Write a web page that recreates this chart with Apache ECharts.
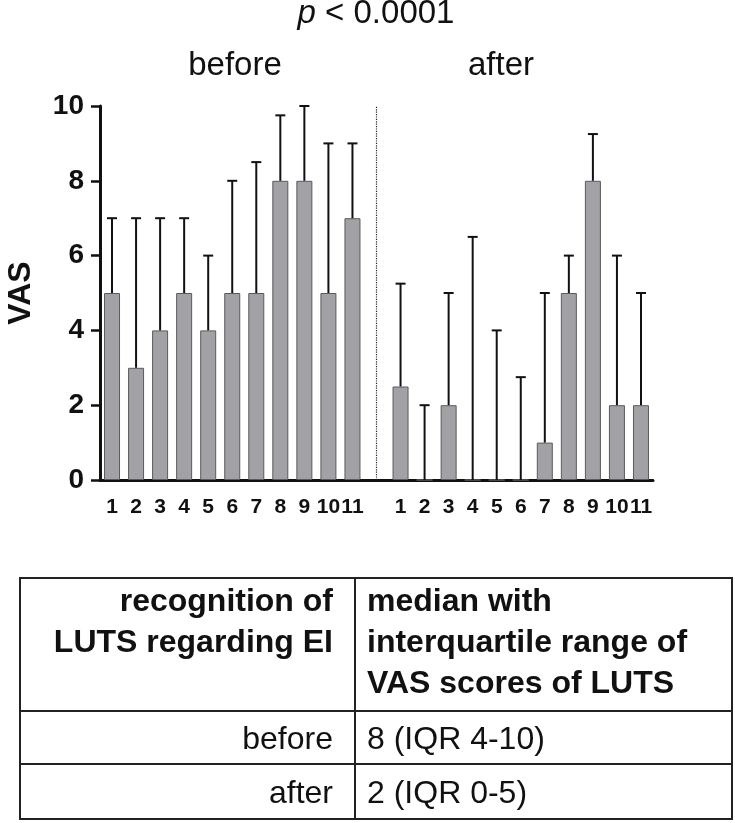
<!DOCTYPE html>
<html>
<head>
<meta charset="utf-8">
<script src="https://cdn.jsdelivr.net/npm/echarts@6/dist/echarts.min.js"></script>
<style>
html,body{margin:0;padding:0;background:#fff;}
#chart{width:735px;height:823px;}
</style>
</head>
<body>
<div id="chart"></div>
<script>
// ---- data ----
const patientsBefore = ['1','2','3','4','5','6','7','8','9','10','11'];
const patientsAfter = ['1','2','3','4','5','6','7','8','9','10','11'];
const beforeMedian = [5, 3, 4, 5, 4, 5, 5, 8, 8, 5, 7];
const beforeUpper  = [7, 7, 7, 7, 6, 8, 8.5, 9.75, 10, 9, 9];
const afterMedian  = [2.5, 0, 2, 0, 0, 0, 1, 5, 8, 2, 2];
const afterUpper   = [5.25, 2, 5, 6.5, 4, 2.75, 5, 6, 9.25, 6, 5];
const yTicks = [0, 2, 4, 6, 8, 10];
const groupLabels = ['before', 'after'];
const yAxisName = 'VAS';
const pSymbol = 'p';
const pValueText = '< 0.0001';
const tableHeaderLeft = ['recognition of', 'LUTS regarding EI'];
const tableHeaderRight = ['median with', 'interquartile range of', 'VAS scores of LUTS'];
const tableRowLabels = ['before', 'after'];
const tableRowValues = ['8 (IQR 4-10)', '2 (IQR 0-5)'];

// ---- build ----
const categories = patientsBefore.concat([''], patientsAfter);
const gapIndex = patientsBefore.length;
const barData = beforeMedian.concat(['-'], afterMedian);
const errData = [];
beforeMedian.forEach((m, i) => errData.push([i, m, beforeUpper[i]]));
afterMedian.forEach((m, i) => errData.push([gapIndex + 1 + i, m, afterUpper[i]]));

const FONT = "'Liberation Sans', Arial, sans-serif";
const NARROW = "'Liberation Sans Narrow', 'Arial Narrow', 'Liberation Sans', sans-serif";
const INK = '#111';

const chart = echarts.init(document.getElementById('chart'), null, {renderer: 'canvas'});

const tableX0 = 20, tableX1 = 732, tableY0 = 578, tableY1 = 819, colX = 355;
const rowY = [711, 764];
const graphics = [
  {type: 'text', x: 376, y: 14, style: {
    text: '{i|' + pSymbol + '} ' + pValueText,
    font: '33px ' + FONT, fill: INK, align: 'center', verticalAlign: 'middle',
    rich: {i: {fontStyle: 'italic', fontSize: 33, fontFamily: FONT, fill: INK}}
  }},
  {type: 'text', x: 235, y: 66, style: {text: groupLabels[0], font: '33px ' + FONT, fill: INK, align: 'center', verticalAlign: 'middle'}},
  {type: 'text', x: 501, y: 66, style: {text: groupLabels[1], font: '33px ' + FONT, fill: INK, align: 'center', verticalAlign: 'middle'}},
  {type: 'rect', shape: {x: tableX0, y: tableY0, width: tableX1 - tableX0, height: tableY1 - tableY0}, style: {fill: 'none', stroke: '#222', lineWidth: 2}},
  {type: 'line', shape: {x1: colX, y1: tableY0, x2: colX, y2: tableY1}, style: {stroke: '#222', lineWidth: 2}},
  {type: 'line', shape: {x1: tableX0, y1: rowY[0], x2: tableX1, y2: rowY[0]}, style: {stroke: '#222', lineWidth: 2}},
  {type: 'line', shape: {x1: tableX0, y1: rowY[1], x2: tableX1, y2: rowY[1]}, style: {stroke: '#222', lineWidth: 2}}
];
const headerY = [602, 643, 684];
tableHeaderLeft.forEach((t, i) => graphics.push({type: 'text', x: 333, y: headerY[i], style: {text: t, font: 'bold 32px ' + FONT, fill: INK, align: 'right', verticalAlign: 'middle'}}));
tableHeaderRight.forEach((t, i) => graphics.push({type: 'text', x: 367, y: headerY[i], style: {text: t, font: 'bold 32px ' + FONT, fill: INK, align: 'left', verticalAlign: 'middle'}}));
const rowTextY = [740, 794];
tableRowLabels.forEach((t, i) => graphics.push({type: 'text', x: 333, y: rowTextY[i], style: {text: t, font: '32px ' + FONT, fill: INK, align: 'right', verticalAlign: 'middle'}}));
tableRowValues.forEach((t, i) => graphics.push({type: 'text', x: 367, y: rowTextY[i], style: {text: t, font: '32px ' + FONT, fill: INK, align: 'left', verticalAlign: 'middle'}}));

const option = {
  animation: false,
  backgroundColor: '#fff',
  grid: {left: 100, top: 106, width: 553, height: 374, containLabel: false, outerBoundsMode: 'none'},
  xAxis: {
    type: 'category',
    data: categories,
    boundaryGap: true,
    axisLine: {lineStyle: {color: INK, width: 3}},
    axisTick: {alignWithLabel: true, length: 8, lineStyle: {color: INK, width: 3},
      interval: (idx) => idx !== gapIndex},
    axisLabel: {interval: 0, margin: 17, color: INK, fontFamily: NARROW, fontWeight: 'bold', fontSize: 21}
  },
  yAxis: {
    type: 'value',
    min: yTicks[0], max: yTicks[yTicks.length - 1], interval: 2,
    name: yAxisName, nameLocation: 'middle', nameRotate: 90, nameGap: 63,
    nameTextStyle: {color: INK, fontFamily: FONT, fontWeight: 'bold', fontSize: 32},
    axisLine: {show: true, lineStyle: {color: INK, width: 3}},
    axisTick: {show: true, length: 9, lineStyle: {color: INK, width: 2.5}},
    axisLabel: {margin: 16, color: INK, fontFamily: FONT, fontWeight: 'bold', fontSize: 28},
    splitLine: {show: false}
  },
  series: [
    {
      type: 'bar',
      data: barData,
      barWidth: 16,
      itemStyle: {color: '#a2a2a6', borderColor: '#5a5a5a', borderWidth: 1},
      markLine: {
        silent: true, symbol: 'none', label: {show: false},
        lineStyle: {type: 'dotted', color: '#222', width: 1.2},
        data: [{xAxis: gapIndex}]
      }
    },
    {
      type: 'custom',
      data: errData,
      z: 5,
      renderItem: function (params, api) {
        const x = api.value(0);
        const lo = api.coord([x, api.value(1)]);
        const hi = api.coord([x, api.value(2)]);
        const cap = 5;
        return {
          type: 'group',
          children: [
            {type: 'line', shape: {x1: lo[0], y1: lo[1], x2: hi[0], y2: hi[1]}, style: {stroke: INK, lineWidth: 2}},
            {type: 'line', shape: {x1: hi[0] - cap, y1: hi[1], x2: hi[0] + cap, y2: hi[1]}, style: {stroke: INK, lineWidth: 2}}
          ]
        };
      }
    }
  ],
  graphic: graphics
};
chart.setOption(option);
</script>
</body>
</html>
